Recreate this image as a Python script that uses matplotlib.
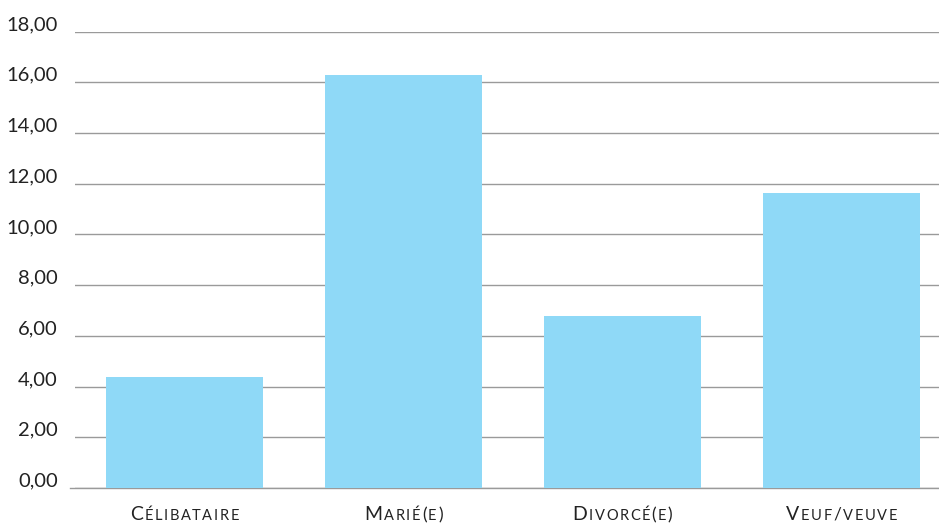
import matplotlib
matplotlib.use("Agg")
import matplotlib.pyplot as plt
import matplotlib.transforms as mtransforms
from matplotlib.ticker import FixedLocator, FuncFormatter

categories = ["Célibataire", "Marié(e)", "Divorcé(e)", "Veuf/veuve"]
values = [4.37, 16.30, 6.77, 11.62]
yticks = [0, 2, 4, 6, 8, 10, 12, 14, 16, 18]

BAR = "#8fd9f7"
GRID = "#9a9a9a"
TEXT = "#222222"
FONT = "Lato"

fig = plt.figure(figsize=(9.39, 5.24), dpi=100)
W, H = 939, 524
ax = fig.add_axes([75 / W, 1 - 488 / H, (939 - 75) / W, (488 - 31.5) / H])

x = list(range(len(categories)))
ax.bar(x, values, width=0.72, color=BAR, zorder=2)
ax.set_xlim(-0.5, -0.5 + 864 / 219)
ax.set_ylim(0, 18)

ax.yaxis.set_major_locator(FixedLocator(yticks))
ax.yaxis.set_major_formatter(FuncFormatter(lambda v, p: f"{v:.2f}".replace(".", ",")))
ax.grid(axis="y", color=GRID, linewidth=1.0, zorder=0)
ax.set_axisbelow(True)
for s in ax.spines.values():
    s.set_visible(False)
ax.tick_params(axis="y", length=0, pad=12.5, labelsize=14.5, labelcolor=TEXT)
ax.tick_params(axis="x", length=0, labelbottom=False)
shift = mtransforms.ScaledTranslation(0, 1.5 / 100, fig.dpi_scale_trans)
for lbl in ax.get_yticklabels():
    lbl.set_fontfamily(FONT)
    lbl.set_verticalalignment("baseline")
    lbl.set_transform(lbl.get_transform() + shift)

# baseline extends slightly left of the grid
ax.plot([-0.5 - 5 / 219, -0.5 + 864 / 219], [0, 0], color=GRID, lw=1.0,
        clip_on=False, zorder=1)

# small-caps category labels with letter tracking
fig.canvas.draw()
renderer = fig.canvas.get_renderer()
BIG, SMALL, TRACK = 14, 10.5, 1.6


def glyphs(label):
    out = []
    for i, ch in enumerate(label):
        if i == 0 or ch in "()/" or ch.isupper():
            out.append((ch.upper(), BIG if ch.isalpha() or i == 0 else SMALL + 2))
        else:
            out.append((ch.upper(), SMALL))
    return out


def width_of(ch, size):
    t = fig.text(0, 0, ch, fontsize=size, fontfamily=FONT)
    w = t.get_window_extent(renderer).width
    t.remove()
    return w


base_y = 1 - 520 / H
for xi, label in zip(x, categories):
    gl = glyphs(label)
    widths = [width_of(c, s) for c, s in gl]
    total = sum(widths) + TRACK * (len(gl) - 1)
    cx = ax.transData.transform((xi, 0))[0]
    px = cx - total / 2
    for (c, s), w in zip(gl, widths):
        fig.text(px / W, base_y, c, fontsize=s, fontfamily=FONT, color=TEXT,
                 va="baseline", ha="left")
        px += w + TRACK

fig.savefig("out.png", dpi=100)
